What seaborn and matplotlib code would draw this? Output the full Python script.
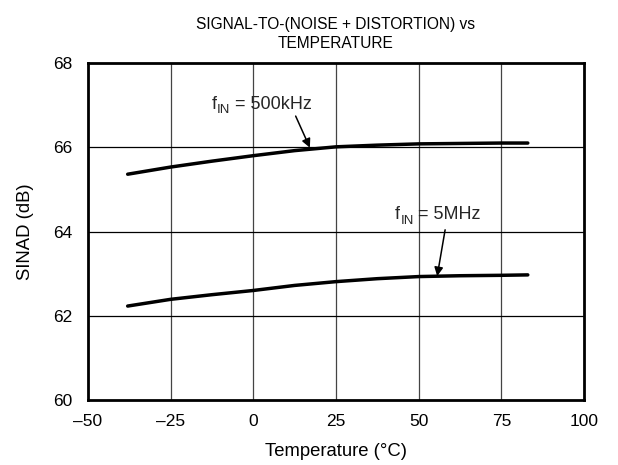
import matplotlib
matplotlib.use("Agg")
import matplotlib.pyplot as plt
import seaborn as sns

# Data
temperature = [-38, -25, -12.5, 0, 12.5, 25, 37.5, 50, 62.5, 75, 83]
sinad_500khz = [65.36, 65.53, 65.67, 65.80, 65.92, 66.01, 66.05, 66.08, 66.09, 66.10, 66.10]
sinad_5mhz = [62.23, 62.39, 62.50, 62.60, 62.72, 62.81, 62.88, 62.93, 62.95, 62.96, 62.97]
x_ticks = [-50, -25, 0, 25, 50, 75, 100]
x_tick_labels = ["\u201350", "\u201325", "0", "25", "50", "75", "100"]
y_ticks = [60, 62, 64, 66, 68]

sns.set_theme(style="white")
plt.rcParams["font.family"] = ["Liberation Sans", "DejaVu Sans"]

fig, ax = plt.subplots(figsize=(6.18, 4.65), dpi=100)
fig.subplots_adjust(left=88 / 618, right=584 / 618, top=1 - 63 / 465, bottom=1 - 400 / 465)

sns.lineplot(x=temperature, y=sinad_500khz, color="black", linewidth=2.5, ax=ax)
sns.lineplot(x=temperature, y=sinad_5mhz, color="black", linewidth=2.5, ax=ax)

ax.set_xlim(-50, 100)
ax.set_ylim(60, 68)
ax.set_xticks(x_ticks)
ax.set_xticklabels(x_tick_labels)
ax.set_yticks(y_ticks)

# grid: vertical grey, horizontal black
for xv in x_ticks[1:-1]:
    ax.axvline(xv, color="#444444", linewidth=0.9, zorder=0)
for yv in y_ticks[1:-1]:
    ax.axhline(yv, color="black", linewidth=0.9, zorder=0)

for sp in ax.spines.values():
    sp.set_linewidth(2)
    sp.set_color("black")

ax.tick_params(length=0, labelsize=12.5, colors="black")
ax.tick_params(axis="x", pad=10)
ax.tick_params(axis="y", pad=11)
ax.set_xlabel("Temperature (\u00b0C)", fontsize=13.3, labelpad=10, color="black")
ax.set_ylabel("SINAD (dB)", fontsize=13.3, labelpad=14, color="black")
ax.set_title("SIGNAL-TO-(NOISE + DISTORTION) vs\nTEMPERATURE", fontsize=11.2,
             pad=11, color="black", linespacing=1.3)

# annotations: arrows, then labels drawn as f + subscript IN + rest
arrow = dict(arrowstyle="-|>", color="black", lw=1.1, shrinkA=0, shrinkB=0,
             mutation_scale=13)
ax.annotate("", xy=(17.1, 65.99), xytext=(12.8, 66.74), arrowprops=arrow)
ax.annotate("", xy=(55.6, 62.94), xytext=(58.0, 64.04), arrowprops=arrow)

labels = [(-12.6, 66.91, " = 500kHz"), (42.8, 64.29, " = 5MHz")]
for lx, ly, rest in labels:
    t1 = ax.text(lx, ly, "f", fontsize=13, ha="left", va="baseline")
    t2 = ax.annotate("IN", xy=(1, 0), xycoords=t1, xytext=(0.3, -0.2),
                     textcoords="offset points", fontsize=9.5,
                     va="baseline", ha="left")
    ax.annotate(rest, xy=(1, 0), xycoords=(t2, t1), xytext=(-0.5, 0),
                textcoords="offset points", fontsize=13, va="bottom", ha="left")

plt.savefig("out.png", dpi=100)
